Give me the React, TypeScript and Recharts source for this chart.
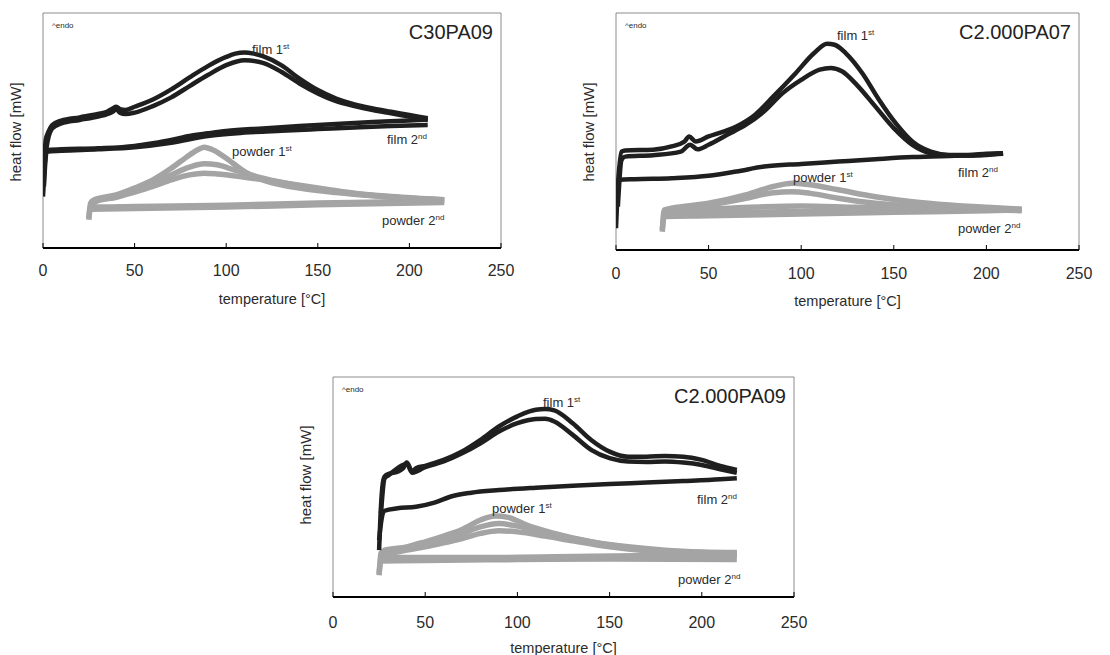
import { Line, LineChart, ReferenceLine, XAxis, YAxis } from 'recharts';

type Pt = [number, number];

// temperature [°C], heat flow (arbitrary units, 0 = bottom of frame, 100 = top)

// C30PA09
const c30Film1a: Pt[] = [
  [0.5, 34.7], [1.5, 46.0], [3, 49.5], [5, 52.3], [10, 54.2], [20, 55.6], [30, 57.0], [35, 58.0],
  [38, 59.4], [40, 60.1], [42, 59.1], [45, 58.7], [50, 60.1], [60, 63.2], [70, 67.5], [80, 72.6],
  [90, 77.4], [100, 81.3], [105, 82.7], [110, 83.2], [115, 82.7], [120, 81.6], [130, 77.8],
  [140, 72.1], [150, 67.2], [160, 63.6], [170, 61.1], [180, 59.4], [190, 58.0], [200, 56.6], [210, 55.2],
];
const c30Film1b: Pt[] = [
  [0.5, 31.8], [2, 43.1], [5, 50.9], [10, 53.0], [20, 54.5], [30, 55.9], [38, 58.0], [40, 59.0],
  [42, 57.6], [45, 57.0], [50, 57.6], [60, 60.4], [70, 64.1], [80, 68.9], [90, 73.6], [100, 77.8],
  [110, 79.9], [120, 78.8], [130, 75.0], [140, 70.0], [150, 65.8], [160, 62.5], [170, 60.4],
  [180, 58.7], [190, 57.3], [200, 55.9], [210, 54.5],
];
const c30Film2a: Pt[] = [
  [0, 21.9], [0.5, 29.0], [1, 38.9], [2, 41.7], [10, 42.0], [30, 42.4], [50, 43.4], [60, 44.6],
  [70, 46.0], [80, 47.7], [90, 48.8], [100, 49.8], [120, 50.9], [140, 51.9], [160, 52.8],
  [180, 53.6], [200, 54.3], [210, 54.7],
];
const c30Film2b: Pt[] = [
  [0.5, 26.2], [2, 41.0], [10, 41.4], [30, 42.0], [50, 42.9], [70, 44.8], [90, 47.7], [110, 49.1],
  [130, 49.9], [150, 50.6], [170, 51.3], [190, 51.9], [210, 52.3],
];
const c30Powder1a: Pt[] = [
  [25, 12.7], [26, 19.1], [28, 20.5], [40, 22.6], [50, 25.5], [60, 29.0], [70, 33.9], [80, 39.6],
  [85, 42.0], [88, 42.9], [92, 42.0], [100, 38.2], [110, 32.5], [120, 29.0], [130, 26.9],
  [140, 25.5], [160, 23.6], [180, 22.2], [200, 21.2], [219, 20.5],
];
const c30Powder1b: Pt[] = [
  [26, 19.1], [28, 20.1], [40, 21.9], [50, 24.5], [60, 27.6], [70, 31.1], [80, 34.4], [88, 35.8],
  [95, 35.4], [105, 33.0], [120, 29.7], [140, 26.4], [160, 24.0], [180, 22.3], [200, 21.2], [219, 20.5],
];
const c30Powder1c: Pt[] = [
  [26, 18.8], [30, 20.1], [40, 21.6], [50, 23.8], [60, 26.2], [70, 29.0], [80, 31.1], [88, 31.8],
  [95, 31.5], [110, 30.1], [130, 27.9], [150, 25.5], [170, 23.3], [190, 21.9], [219, 20.5],
];
const c30Powder2a: Pt[] = [
  [25, 12.0], [26, 17.7], [28, 17.4], [50, 17.7], [100, 18.2], [150, 19.1], [200, 19.8], [219, 20.1],
];
const c30Powder2b: Pt[] = [[26, 16.5], [100, 17.4], [150, 18.4], [219, 19.4]];

// C2.000PA07
const c07Film1a: Pt[] = [
  [0.5, 21.1], [1.5, 32.4], [3, 41.5], [5, 42.0], [20, 42.3], [30, 43.7], [37, 45.8], [39.5, 47.9],
  [43, 45.8], [50, 47.9], [65, 52.1], [75, 57.0], [85, 64.8], [97, 74.6], [107, 83.1], [114, 87.0],
  [118, 86.6], [124, 83.1], [133, 74.6], [142, 63.4], [151, 53.5], [160, 45.8], [170, 41.5],
  [180, 40.1], [190, 40.1], [200, 40.6], [209, 40.8],
];
const c07Film1b: Pt[] = [
  [1, 18.3], [3, 38.0], [5, 39.4], [20, 40.0], [35, 41.5], [40, 44.4], [44, 42.5], [50, 44.4],
  [60, 48.6], [70, 52.8], [80, 58.5], [90, 66.2], [100, 71.8], [110, 76.1], [116, 76.8],
  [122, 75.4], [130, 69.7], [140, 60.6], [150, 51.4], [160, 44.4], [170, 40.8], [180, 39.9],
  [190, 39.9], [200, 40.3], [209, 40.6],
];
const c07Film2: Pt[] = [
  [0, 9.2], [0.5, 18.3], [1, 25.4], [2, 29.6], [10, 29.9], [30, 30.3], [50, 31.3], [65, 33.1],
  [80, 35.2], [100, 36.3], [120, 37.3], [140, 38.3], [160, 39.2], [180, 39.7], [200, 40.1], [209, 40.8],
];
const c07Powder1a: Pt[] = [
  [25, 7.7], [26, 16.9], [30, 17.6], [50, 19.7], [70, 23.2], [85, 26.8], [95, 28.2], [105, 27.5],
  [120, 25.4], [140, 22.5], [160, 20.4], [180, 19.0], [200, 18.0], [219, 17.2],
];
const c07Powder1b: Pt[] = [
  [26, 16.6], [30, 17.2], [50, 19.0], [70, 21.8], [85, 24.2], [95, 24.6], [105, 23.9], [120, 21.8],
  [140, 19.7], [160, 18.6], [180, 17.9], [200, 17.3], [219, 16.9],
];
const c07Powder1c: Pt[] = [
  [26, 16.1], [50, 17.2], [80, 18.3], [100, 18.6], [130, 18.0], [160, 17.6], [219, 16.6],
];
const c07Powder2a: Pt[] = [
  [25, 8.5], [26, 14.1], [50, 14.4], [100, 15.2], [150, 15.9], [200, 16.6], [219, 16.9],
];
const c07Powder2b: Pt[] = [[26, 15.5], [100, 16.2], [219, 17.2]];

// C2.000PA09
const c09Film1a: Pt[] = [
  [25, 21.3], [26, 41.0], [27, 51.7], [28, 54.7], [30, 55.9], [35, 57.0], [38, 58.5], [40, 61.1],
  [43, 57.0], [45, 58.5], [50, 59.6], [60, 62.3], [70, 66.1], [80, 71.4], [90, 77.5], [100, 82.1],
  [110, 85.1], [115, 85.4], [120, 84.8], [130, 79.0], [140, 71.4], [150, 66.1], [160, 63.8],
  [170, 63.8], [180, 64.1], [190, 63.8], [200, 62.3], [210, 59.6], [219, 57.8],
];
const c09Film1b: Pt[] = [
  [26, 38.0], [28, 54.0], [30, 55.3], [40, 60.5], [43, 56.5], [50, 59.0], [60, 61.6], [70, 65.3],
  [80, 69.9], [90, 75.2], [100, 79.0], [110, 80.9], [115, 81.0], [120, 79.8], [130, 73.7],
  [140, 66.9], [150, 63.1], [160, 61.6], [170, 61.4], [180, 61.6], [190, 61.1], [200, 60.0],
  [210, 58.1], [219, 56.5],
];
const c09Film2: Pt[] = [
  [25, 25.8], [26, 33.4], [27, 38.0], [28, 39.2], [35, 40.3], [45, 41.0], [55, 42.9], [65, 45.9],
  [75, 47.4], [90, 48.6], [110, 49.7], [130, 50.6], [150, 51.4], [170, 52.0], [190, 52.7],
  [210, 53.5], [219, 54.0],
];
const c09Powder1a: Pt[] = [
  [25, 9.9], [26, 19.8], [28, 21.3], [40, 22.8], [50, 25.1], [60, 27.7], [70, 30.7], [80, 35.0],
  [88, 36.8], [95, 36.2], [105, 32.7], [120, 28.9], [140, 25.1], [160, 22.8], [180, 21.3],
  [200, 20.5], [219, 20.2],
];
const c09Powder1b: Pt[] = [
  [26, 19.5], [40, 22.2], [50, 24.0], [60, 26.1], [70, 28.9], [80, 31.9], [90, 33.4], [100, 32.2],
  [115, 29.2], [130, 26.6], [150, 23.6], [170, 21.6], [200, 20.2], [219, 19.8],
];
const c09Powder1c: Pt[] = [
  [26, 18.8], [40, 21.3], [50, 22.8], [60, 24.6], [70, 26.6], [80, 28.9], [90, 30.1], [100, 29.6],
  [115, 27.7], [130, 25.5], [150, 22.8], [170, 21.0], [200, 19.8], [219, 19.1],
];
const c09Powder2a: Pt[] = [[25, 10.6], [26, 16.4], [60, 16.7], [100, 17.0], [150, 17.3], [219, 17.0]];
const c09Powder2b: Pt[] = [[26, 17.9], [80, 17.9], [140, 18.5], [219, 19.3]];

const tempTicks = [0, 50, 100, 150, 200, 250];

const FONT = '"Liberation Sans", Arial, Helvetica, sans-serif';
const BLACK = '#1f1f1f';
const GRAY = '#a4a4a4';
const TEXT = '#2b2b2b';

type Curve = { pts: Pt[]; color: string; width: number };
type Note = { text: string; sup: string; x: number; y: number };

const black = (pts: Pt[]): Curve => ({ pts, color: BLACK, width: 4.5 });
const gray = (pts: Pt[]): Curve => ({ pts, color: GRAY, width: 5.5 });

const rows = (pts: Pt[]) => pts.map(([t, v]) => ({ t, v }));

function Panel({
  left,
  top,
  w,
  h,
  curves,
  title,
  notes,
  yTitleY,
  tickGap,
}: {
  left: number;
  top: number;
  w: number;
  h: number;
  curves: Curve[];
  title: string;
  notes: Note[];
  yTitleY: number;
  tickGap: number;
}) {
  const padL = 30;
  const padT = 10;
  const padR = 30;
  const axisH = 60;
  const bottom = padT + h;

  const renderTick = (p: any) => (
    <g>
      <line x1={p.x} x2={p.x} y1={bottom} y2={bottom - 5} stroke="#000" strokeWidth={1} />
      <text
        x={p.x}
        y={bottom + tickGap}
        textAnchor="middle"
        dominantBaseline="central"
        fontSize={16}
        fontFamily={FONT}
        fill={TEXT}
      >
        {p.payload.value}
      </text>
    </g>
  );

  return (
    <>
      <div style={{ position: 'absolute', left: left - padL, top: top - padT }}>
        <LineChart
          width={w + padL + padR}
          height={h + padT + axisH}
          margin={{ top: padT, right: padR, left: padL, bottom: 0 }}
        >
          <XAxis
            type="number"
            dataKey="t"
            domain={[0, 250]}
            ticks={tempTicks}
            height={axisH}
            tickLine={false}
            tick={renderTick}
            axisLine={{ stroke: '#000', strokeWidth: 2 }}
            allowDataOverflow
          />
          <YAxis hide type="number" domain={[0, 100]} allowDataOverflow />
          <ReferenceLine y={100} stroke="#8c8c8c" />
          <ReferenceLine x={0} stroke="#8c8c8c" />
          <ReferenceLine x={250} stroke="#8c8c8c" />
          {curves.map((c, i) => (
            <Line
              key={i}
              data={rows(c.pts)}
              dataKey="v"
              type="monotone"
              stroke={c.color}
              strokeWidth={c.width}
              dot={false}
              isAnimationActive={false}
            />
          ))}
        </LineChart>
      </div>
      <div
        style={{
          position: 'absolute',
          left: left + w / 2 - 100,
          width: 200,
          top: top + h + 42,
          textAlign: 'center',
          fontSize: 14.5,
          lineHeight: '18px',
          color: TEXT,
        }}
      >
        temperature [°C]
      </div>
      <div
        style={{
          position: 'absolute',
          left: left - 27 - 100,
          width: 200,
          top: yTitleY - 9,
          textAlign: 'center',
          fontSize: 15,
          lineHeight: '18px',
          color: TEXT,
          transform: 'rotate(-90deg)',
        }}
      >
        heat flow [mW]
      </div>
      <div
        style={{
          position: 'absolute',
          left: left + w - 208,
          width: 200,
          top: top + 8,
          textAlign: 'right',
          fontSize: 20,
          lineHeight: '22px',
          color: '#222',
        }}
      >
        {title}
      </div>
      <div style={{ position: 'absolute', left: left + 9, top: top + 8, fontSize: 8, lineHeight: '10px', color: TEXT }}>
        ^endo
      </div>
      {notes.map((n, i) => (
        <div
          key={i}
          style={{ position: 'absolute', left: n.x, top: n.y - 8, fontSize: 13, lineHeight: '16px', color: TEXT, whiteSpace: 'nowrap' }}
        >
          {n.text}
          <sup style={{ fontSize: 8, verticalAlign: 5 }}>{n.sup}</sup>
        </div>
      ))}
    </>
  );
}

export default function App() {
  return (
    <div style={{ position: 'absolute', left: 0, top: 0, width: 1110, height: 655, background: '#fff', fontFamily: FONT }}>
      <Panel
        left={43}
        top={13}
        w={458}
        h={235}
        title="C30PA09"
        yTitleY={132}
        tickGap={22}
        curves={[
          gray(c30Powder2a), gray(c30Powder2b), gray(c30Powder1c), gray(c30Powder1b), gray(c30Powder1a),
          black(c30Film2b), black(c30Film2a), black(c30Film1b), black(c30Film1a),
        ]}
        notes={[
          { text: 'film 1', sup: 'st', x: 252, y: 47 },
          { text: 'film 2', sup: 'nd', x: 387, y: 137 },
          { text: 'powder 1', sup: 'st', x: 232, y: 149 },
          { text: 'powder 2', sup: 'nd', x: 382, y: 218 },
        ]}
      />
      <Panel
        left={616}
        top={13}
        w={463}
        h={237}
        title="C2.000PA07"
        yTitleY={132}
        tickGap={23}
        curves={[
          gray(c07Powder2a), gray(c07Powder2b), gray(c07Powder1c), gray(c07Powder1b), gray(c07Powder1a),
          black(c07Film2), black(c07Film1b), black(c07Film1a),
        ]}
        notes={[
          { text: 'film 1', sup: 'st', x: 837, y: 33 },
          { text: 'film 2', sup: 'nd', x: 958, y: 170 },
          { text: 'powder 1', sup: 'st', x: 793, y: 175 },
          { text: 'powder 2', sup: 'nd', x: 958, y: 226 },
        ]}
      />
      <Panel
        left={333}
        top={377}
        w={461}
        h={220}
        title="C2.000PA09"
        yTitleY={475}
        tickGap={25}
        curves={[
          gray(c09Powder2a), gray(c09Powder2b), gray(c09Powder1c), gray(c09Powder1b), gray(c09Powder1a),
          black(c09Film2), black(c09Film1b), black(c09Film1a),
        ]}
        notes={[
          { text: 'film 1', sup: 'st', x: 543, y: 400 },
          { text: 'film 2', sup: 'nd', x: 697, y: 497 },
          { text: 'powder 1', sup: 'st', x: 492, y: 506 },
          { text: 'powder 2', sup: 'nd', x: 678, y: 577 },
        ]}
      />
    </div>
  );
}
